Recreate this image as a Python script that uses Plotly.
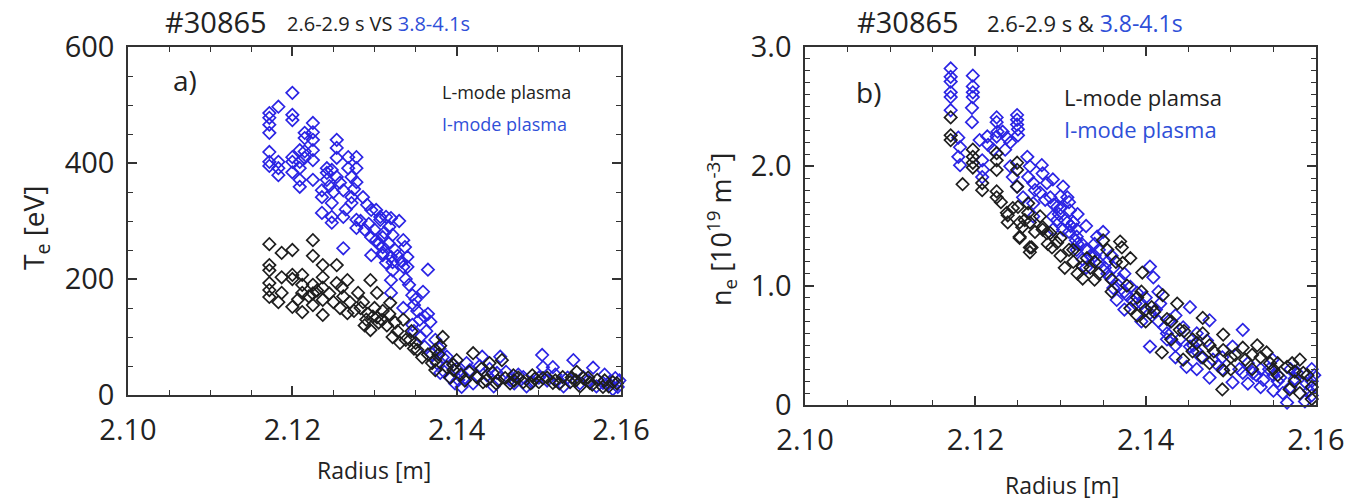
import plotly.graph_objects as go

# ---------------- data ----------------
# Panel a) Te [eV] vs radius; columns of radius with the values measured there
teL_x = [2.1172, 2.1183, 2.1187, 2.1200, 2.1207, 2.1212, 2.1225, 2.1237, 2.1250, 2.1254,
         2.1258, 2.1262, 2.1267, 2.1280, 2.1283, 2.1286, 2.1290, 2.1292, 2.1295, 2.1300,
         2.1303, 2.1309, 2.1310, 2.1315, 2.1318, 2.1319, 2.1325, 2.1328, 2.1331, 2.1335,
         2.1343, 2.1345, 2.1350, 2.1352, 2.1374, 2.1378, 2.1380, 2.1383, 2.1388, 2.1396,
         2.1400, 2.1405, 2.1415, 2.1420, 2.1430, 2.1432, 2.1440, 2.1444, 2.1450, 2.1455,
         2.1459, 2.1465, 2.1469, 2.1475, 2.1481, 2.1490, 2.1492, 2.1495, 2.1505, 2.1510,
         2.1517, 2.1520, 2.1529, 2.1538, 2.1540, 2.1546, 2.1550, 2.1554, 2.1560, 2.1562,
         2.1571, 2.1578, 2.1580, 2.1590, 2.1595,
         2.1220, 2.1230, 2.1245, 2.1260, 2.1270, 2.1275, 2.1288, 2.1298, 2.1305, 2.1322,
         2.1338, 2.1348, 2.1358, 2.1365, 2.1370, 2.1392, 2.1410, 2.1425, 2.1436, 2.1448,
         2.1470, 2.1500, 2.1525, 2.1545, 2.1565, 2.1585]
teL_y = [[260, 224, 215, 193, 181, 169], [160], [245, 203, 176], [250, 207, 200, 152], [165],
         [207, 190, 176, 143], [267, 240, 190, 175, 155], [224, 203, 185, 164, 138], [160], [224, 193],
         [150], [170], [198, 141], [176], [150], [160], [130], [140], [198, 112], [150],
         [176, 134], [129], [145], [120], [140], [159], [125], [110], [90], [130],
         [95], [110], [90], [78], [78, 60, 43], [70], [85], [100], [48], [52, 43],
         [60], [35], [40], [72], [45], [22], [55], [38], [25], [60],
         [29], [20], [34], [30], [22], [20], [34], [28], [29], [30],
         [21], [25], [31], [22], [30], [40], [15], [29], [30], [21],
         [26], [14], [25], [22], [20],
         [170], [180], [175], [185], [160], [145], [120], [135], [125], [100],
         [95], [80], [65], [70], [55], [30], [25], [30], [25], [20],
         [25], [22], [20], [25], [18], [15]]

teI_x = [2.1172, 2.1183, 2.1200, 2.1209, 2.1215, 2.1225, 2.1236, 2.1242, 2.1248, 2.1254,
         2.1258, 2.1262, 2.1268, 2.1272, 2.1278, 2.1286, 2.1291, 2.1296, 2.1302, 2.1307,
         2.1310, 2.1314, 2.1317, 2.1320, 2.1322, 2.1335, 2.1337, 2.1340, 2.1346, 2.1348,
         2.1352, 2.1356, 2.1359, 2.1361, 2.1365, 2.1368, 2.1374, 2.1379, 2.1380, 2.1383,
         2.1388, 2.1396, 2.1400, 2.1402, 2.1406, 2.1410, 2.1412, 2.1416, 2.1420, 2.1425,
         2.1428, 2.1431, 2.1437, 2.1440, 2.1445, 2.1449, 2.1453, 2.1460, 2.1465, 2.1470,
         2.1475, 2.1481, 2.1485, 2.1492, 2.1500, 2.1504, 2.1505, 2.1510, 2.1517, 2.1520,
         2.1526, 2.1530, 2.1535, 2.1542, 2.1550, 2.1554, 2.1560, 2.1566, 2.1570, 2.1578,
         2.1580, 2.1585, 2.1590, 2.1593, 2.1596, 2.1598,
         2.1245, 2.1250, 2.1265, 2.1275, 2.1283, 2.1288, 2.1293, 2.1300, 2.1305, 2.1312,
         2.1318, 2.1325, 2.1328, 2.1330, 2.1333, 2.1338, 2.1342, 2.1350, 2.1355, 2.1363,
         2.1370, 2.1376, 2.1385, 2.1392, 2.1398]
teI_y = [[486, 478, 466, 452, 419, 402, 395], [497, 402, 391, 379], [521, 483, 474, 410, 402, 384],
         [422, 402, 391, 371, 359], [452, 443, 420, 409], [469, 453, 440, 422, 405, 371],
         [353, 341, 314], [391, 383, 371], [388, 331, 307, 297], [440, 426, 409, 376],
         [366], [353, 307, 253], [410, 391], [376, 341, 331], [410, 391, 367, 302, 288],
         [341], [328], [319, 272, 241], [319, 267], [302, 307],
         [272, 255, 245, 241], [307, 228], [262], [305, 238, 176, 198], [276, 229, 215],
         [267, 221, 150], [255], [238, 221], [172, 121], [155, 110],
         [145], [100], [178], [135, 83], [216, 140], [126], [95], [80], [38], [65],
         [66], [52], [45], [26], [14], [30], [55], [43], [20], [31],
         [50], [66], [34], [45], [15], [38], [66], [40], [26], [20],
         [35], [31], [15], [22], [30], [69], [48], [25], [48], [35],
         [22], [15], [30], [60], [20], [31], [25], [47], [15], [21],
         [35], [20], [10], [29], [14], [25],
         [360], [350], [320], [355], [300], [285], [295], [285], [260], [280],
         [290], [250], [240], [300], [230], [200], [190], [165], [130], [110],
         [70], [55], [40], [30], [20]]

# Panel b) ne [1e19 m^-3] vs radius
neL_x = [2.1171, 2.1185, 2.1197, 2.1208, 2.1225, 2.1237, 2.1238, 2.1249, 2.1250, 2.1252,
         2.1255, 2.1262, 2.1264, 2.1266, 2.1276, 2.1279, 2.1284, 2.1288, 2.1290, 2.1296,
         2.1300, 2.1305, 2.1315, 2.1326, 2.1331, 2.1340, 2.1350, 2.1360, 2.1370, 2.1372,
         2.1373, 2.1382, 2.1390, 2.1396, 2.1400, 2.1407, 2.1419, 2.1420, 2.1430, 2.1437,
         2.1440, 2.1444, 2.1455, 2.1467, 2.1475, 2.1490, 2.1491, 2.1500, 2.1514, 2.1517,
         2.1525, 2.1531, 2.1542, 2.1546, 2.1555, 2.1566, 2.1569, 2.1575, 2.1581, 2.1585,
         2.1595,
         2.1230, 2.1244, 2.1258, 2.1270, 2.1285, 2.1310, 2.1320, 2.1335, 2.1345, 2.1355,
         2.1365, 2.1378, 2.1395, 2.1410, 2.1425, 2.1445, 2.1460, 2.1480, 2.1505, 2.1535,
         2.1550, 2.1572, 2.1590]
neL_y = [[2.41, 2.26, 2.22], [1.85], [2.14, 2.08, 2.03, 1.99], [1.86, 1.80], [2.11, 2.05, 1.97, 1.79, 1.74],
         [1.61], [1.59, 1.53], [2.03, 1.97, 1.83], [1.66], [1.53, 1.41, 1.40],
         [1.49], [1.69, 1.61], [1.53, 1.32, 1.28], [1.32], [1.58], [1.49, 1.47], [1.44], [1.44], [1.32], [1.36],
         [1.40, 1.25], [1.15], [1.30, 1.20], [1.16, 1.06], [1.23], [1.20, 1.05], [1.38], [1.05, 0.95], [1.37], [1.32],
         [1.19], [1.23, 0.81], [0.90, 0.75], [1.11], [0.80, 0.70], [0.82], [0.44], [0.92], [0.70, 0.55], [0.85],
         [0.63], [0.38], [0.55, 0.45], [0.73, 0.60, 0.40], [0.50, 0.35], [0.13], [0.59, 0.46, 0.29], [0.40, 0.30], [0.48], [0.38],
         [0.42, 0.30], [0.50], [0.44], [0.35], [0.35, 0.25], [0.32], [0.13], [0.28, 0.20], [0.38, 0.10], [0.27],
         [0.15, 0.05],
         [1.70], [1.65], [1.55], [1.45], [1.35], [1.30], [1.10], [1.15], [1.10], [1.30],
         [1.20], [1.00], [0.95], [0.78], [0.72], [0.62], [0.52], [0.45], [0.42], [0.40],
         [0.30], [0.35], [0.25]]

neI_x = [2.1171, 2.1180, 2.1182, 2.1196, 2.1197, 2.1205, 2.1208, 2.1209, 2.1214, 2.1215,
         2.1221, 2.1225, 2.1226, 2.1232, 2.1235, 2.1237, 2.1241, 2.1244, 2.1249, 2.1250,
         2.1256, 2.1261, 2.1262, 2.1264, 2.1268, 2.1276, 2.1278, 2.1279, 2.1284, 2.1288,
         2.1291, 2.1296, 2.1300, 2.1303, 2.1308, 2.1310, 2.1311, 2.1315, 2.1319, 2.1320,
         2.1326, 2.1330, 2.1340, 2.1343, 2.1346, 2.1350, 2.1355, 2.1358, 2.1362, 2.1366,
         2.1370, 2.1375, 2.1382, 2.1384, 2.1390, 2.1395, 2.1405, 2.1409, 2.1415, 2.1417,
         2.1425, 2.1428, 2.1435, 2.1444, 2.1448, 2.1452, 2.1460, 2.1472, 2.1475, 2.1479,
         2.1490, 2.1502, 2.1514, 2.1520, 2.1526, 2.1535, 2.1538, 2.1549, 2.1550, 2.1558,
         2.1561, 2.1566, 2.1570, 2.1578, 2.1587, 2.1589, 2.1595,
         2.1270, 2.1282, 2.1292, 2.1298, 2.1305, 2.1312, 2.1318, 2.1325, 2.1335, 2.1345,
         2.1352, 2.1360, 2.1368, 2.1378, 2.1388, 2.1400, 2.1412, 2.1422, 2.1440, 2.1456,
         2.1465, 2.1485, 2.1510, 2.1530, 2.1545, 2.1555, 2.1575, 2.1592, 2.1598]
neI_y = [[2.82, 2.75, 2.71, 2.62, 2.58, 2.47], [2.24, 2.08], [2.16, 2.01], [2.49, 2.37], [2.76, 2.67, 2.62, 2.58],
         [2.22], [2.05, 1.91], [1.97], [2.25], [2.18],
         [2.14], [2.41, 2.37, 2.25], [2.29], [2.29], [2.14], [2.24], [2.20, 2.00], [1.91], [2.43, 2.39, 2.35, 1.83], [2.31, 2.26],
         [1.74], [2.08], [1.91], [2.00], [1.86, 1.69, 1.58], [1.78], [2.01], [1.94], [1.86], [1.74],
         [1.89, 1.58, 1.47], [1.66, 1.55], [1.75, 1.65], [1.83, 1.47], [1.74, 1.53], [1.70, 1.45], [1.63], [1.53], [1.41, 1.47, 1.30], [1.60, 1.35],
         [1.22], [1.50, 1.30, 1.15], [1.35, 1.25], [1.41], [1.19], [1.45], [1.20, 1.10], [1.07], [1.15, 0.98], [0.88],
         [1.05], [1.10, 0.95, 0.80], [0.99], [0.88], [0.94], [0.85, 0.70], [1.16, 0.77, 0.49], [1.07], [0.95, 0.70], [0.85],
         [0.60, 0.55], [0.71], [0.75, 0.50, 0.40], [0.65], [0.32], [0.82, 0.49], [0.60, 0.45, 0.30], [0.54], [0.71, 0.23], [0.38],
         [0.40, 0.30], [0.49, 0.19], [0.63, 0.27], [0.35, 0.18], [0.27], [0.30, 0.15], [0.21], [0.38], [0.25, 0.12], [0.23],
         [0.10], [0.02], [0.30, 0.15], [0.27], [0.03], [0.18], [0.20, 0.08, 0.30],
         [1.80], [1.72], [1.68], [1.60], [1.55], [1.50], [1.38], [1.35], [1.25], [1.30],
         [1.15], [1.25], [1.00], [0.92], [0.85], [0.90], [0.80], [0.65], [0.55], [0.50],
         [0.40], [0.33], [0.30], [0.25], [0.30], [0.20], [0.22], [0.12], [0.25]]

x_ticks = [2.10, 2.12, 2.14, 2.16]
x_ticktext = ["2.10", "2.12", "2.14", "2.16"]
te_ticks = [0, 200, 400, 600]
te_ticktext = ["0", "200", "400", "600"]
ne_ticks = [0, 1, 2, 3]
ne_ticktext = ["0", "1.0", "2.0", "3.0"]


def expand(xs, ys):
    ox, oy = [], []
    for xv, col in zip(xs, ys):
        for v in col:
            ox.append(xv)
            oy.append(v)
    return ox, oy


FONT = "Open Sans"
TXT = "#222222"
AX = "#333333"
BLACK_M = "#1e1e1e"
BLUE_M = "#2b24e4"
BLUE_T = "#2f4fd8"

fig = go.Figure()


def add(xs, ys, color, xa, ya):
    px, py = expand(xs, ys)
    fig.add_trace(go.Scatter(
        x=px, y=py, mode="markers", xaxis=xa, yaxis=ya, showlegend=False,
        cliponaxis=False,
        marker=dict(symbol="diamond-open", size=9.5, color=color, line=dict(width=1.7, color=color)),
    ))


add(teI_x, teI_y, BLUE_M, "x", "y")
add(teL_x, teL_y, BLACK_M, "x", "y")
add(neI_x, neI_y, BLUE_M, "x2", "y2")
add(neL_x, neL_y, BLACK_M, "x2", "y2")

base = dict(showline=True, linecolor=AX, linewidth=1.5, mirror="ticks", ticks="inside",
            ticklen=9, tickwidth=1.5, tickcolor=AX, showgrid=False, zeroline=False,
            automargin=False,
            tickfont=dict(family=FONT, size=29, color=TXT))
xstyle = dict(base, ticklabelstandoff=8)
ystyle = dict(base, ticklabelstandoff=6)

fig.update_layout(
    width=1356, height=500,
    margin=dict(l=0, r=0, t=0, b=0, pad=0, autoexpand=False),
    paper_bgcolor="white", plot_bgcolor="white",
    xaxis=dict(xstyle, domain=[0.0944, 0.458], range=[2.10, 2.16], anchor="y",
               tickmode="array", tickvals=x_ticks, ticktext=x_ticktext,
               minor=dict(ticks="inside", tickmode="linear", tick0=2.10, dtick=0.005,
                          ticklen=5, tickwidth=1.2, tickcolor=AX, showgrid=False)),
    yaxis=dict(ystyle, domain=[0.21, 0.906], range=[0, 600], anchor="x",
               tickmode="array", tickvals=te_ticks, ticktext=te_ticktext,
               minor=dict(ticks="inside", tickmode="linear", tick0=0, dtick=50,
                          ticklen=5, tickwidth=1.2, tickcolor=AX, showgrid=False)),
    xaxis2=dict(xstyle, domain=[0.5937, 0.9705], range=[2.10, 2.16], anchor="y2",
                tickmode="array", tickvals=x_ticks, ticktext=x_ticktext,
                minor=dict(ticks="inside", tickmode="linear", tick0=2.10, dtick=0.005,
                           ticklen=5, tickwidth=1.2, tickcolor=AX, showgrid=False)),
    yaxis2=dict(ystyle, domain=[0.19, 0.906], range=[0, 3], anchor="x2",
                tickmode="array", tickvals=ne_ticks, ticktext=ne_ticktext,
                minor=dict(ticks="inside", tickmode="linear", tick0=0, dtick=0.1,
                           ticklen=5, tickwidth=1.2, tickcolor=AX, showgrid=False)),
)


def ann(text, x, y, size, color=TXT, xanchor="left", angle=0):
    fig.add_annotation(text=text, x=x, y=y, xref="paper", yref="paper", showarrow=False,
                       xanchor=xanchor, yanchor="middle", textangle=angle,
                       font=dict(family=FONT, size=size, color=color))


# titles
ann("#30865", 163 / 1356, 1 - 21 / 500, 29)
ann("2.6-2.9 s VS <span style='color:%s'>3.8-4.1s</span>" % BLUE_T, 285 / 1356, 1 - 23 / 500, 20)
ann("#30865", 855 / 1356, 1 - 21 / 500, 29)
ann("2.6-2.9 s &amp; <span style='color:%s;font-size:23px'>3.8-4.1s</span>" % BLUE_T,
    985 / 1356, 1 - 23 / 500, 22)

# panel labels / legends
ann("a)", 185 / 1356, 1 - 80 / 500, 28, xanchor="center")
ann("L-mode plasma", 440 / 1356, 1 - 92 / 500, 18)
ann("I-mode plasma", 440 / 1356, 1 - 124 / 500, 18, BLUE_T)
ann("b)", 868 / 1356, 1 - 92 / 500, 28, xanchor="center")
ann("L-mode plamsa", 1062 / 1356, 1 - 97 / 500, 22)
ann("I-mode plasma", 1062 / 1356, 1 - 129 / 500, 22, BLUE_T)

# axis titles
ann("Radius [m]", 374 / 1356, 1 - 470 / 500, 23, xanchor="center")
ann("Radius [m]", 1062 / 1356, 1 - 485 / 500, 23, xanchor="center")
ann("T<sub>e</sub> [eV]", 35 / 1356, 1 - 228 / 500, 28, xanchor="center", angle=-90)
ann("n<sub>e</sub> [10<sup>19</sup> m<sup>-3</sup>]", 722 / 1356, 1 - 230 / 500, 27, xanchor="center", angle=-90)

fig.write_html("out.html")
